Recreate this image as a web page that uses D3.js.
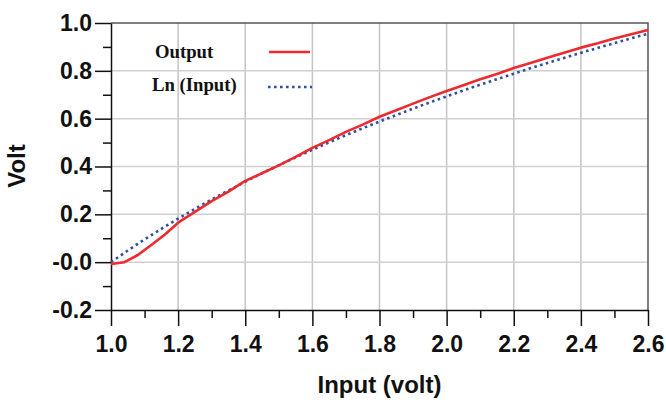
<!DOCTYPE html>
<meta charset="utf-8">
<script src="https://cdn.jsdelivr.net/npm/d3@7"></script>
<style>
  body { margin: 0; background: #fff; }
  .tick text { font-family: "Liberation Sans", Arial, sans-serif; font-weight: bold; font-size: 23px; fill: #111; }
  .legend text { font-family: "Liberation Serif", "Times New Roman", serif; font-weight: bold; font-size: 18.7px; fill: #111; }
  .title { font-family: "Liberation Sans", Arial, sans-serif; font-weight: bold; font-size: 24px; fill: #111; }
</style>
<body>
<div id="chart"></div>
<script>
// values
var inputVolt = [1.00, 1.04, 1.08, 1.12, 1.16, 1.20, 1.25, 1.30, 1.35, 1.40, 1.45, 1.50, 1.55, 1.60, 1.65, 1.70,
                 1.75, 1.80, 1.85, 1.90, 1.95, 2.00, 2.05, 2.10, 2.15, 2.20, 2.25, 2.30, 2.35, 2.40, 2.45, 2.50, 2.55, 2.60];
var outputVolt = [-0.008, 0.000, 0.030, 0.072, 0.115, 0.165, 0.210, 0.255, 0.295, 0.340, 0.372, 0.405, 0.440, 0.478, 0.510, 0.545,
                  0.575, 0.608, 0.635, 0.663, 0.690, 0.716, 0.740, 0.765, 0.787, 0.812, 0.833, 0.855, 0.876, 0.897, 0.915, 0.935, 0.953, 0.971];
var lnInput = [0.000, 0.039, 0.077, 0.113, 0.148, 0.182, 0.223, 0.262, 0.300, 0.336, 0.372, 0.405, 0.438, 0.470, 0.501, 0.531,
               0.560, 0.588, 0.615, 0.642, 0.668, 0.693, 0.718, 0.742, 0.765, 0.788, 0.811, 0.833, 0.854, 0.875, 0.896, 0.916, 0.936, 0.955];

var xTicks = [1.0, 1.2, 1.4, 1.6, 1.8, 2.0, 2.2, 2.4, 2.6];
var xMinor = [1.1, 1.3, 1.5, 1.7, 1.9, 2.1, 2.3, 2.5];
var yTicks = [-0.2, 0.0, 0.2, 0.4, 0.6, 0.8, 1.0];
var yTickLabels = ["-0.2", "-0.0", "0.2", "0.4", "0.6", "0.8", "1.0"];
var yMinor = [-0.1, 0.1, 0.3, 0.5, 0.7, 0.9];
var seriesNames = ["Output", "Ln (Input)"];

var width = 666, height = 400;
var margin = {left: 111, right: 18, top: 23, bottom: 90};

var svg = d3.select("#chart").append("svg")
    .attr("width", width)
    .attr("height", height);

var x = d3.scaleLinear().domain([1.0, 2.6]).range([margin.left, width - margin.right]);
var y = d3.scaleLinear().domain([-0.2, 1.0]).range([height - margin.bottom, margin.top]);

// grid
svg.append("g").selectAll("line").data(xTicks.slice(1, -1)).enter().append("line")
    .attr("x1", d => x(d)).attr("x2", d => x(d))
    .attr("y1", y(1.0)).attr("y2", y(-0.2))
    .attr("stroke", "#c4c4c4").attr("stroke-width", 1.5);
svg.append("g").selectAll("line").data(yTicks.slice(1, -1)).enter().append("line")
    .attr("x1", x(1.0)).attr("x2", x(2.6))
    .attr("y1", d => y(d)).attr("y2", d => y(d))
    .attr("stroke", "#d0d0d0").attr("stroke-width", 1.5);

// top and right frame
svg.append("path")
    .attr("d", "M" + x(1.0) + "," + y(1.0) + "H" + x(2.6) + "V" + y(-0.2))
    .attr("fill", "none").attr("stroke", "#555").attr("stroke-width", 1.5);

// axes
var xAxis = svg.append("g")
    .attr("transform", "translate(0," + y(-0.2) + ")")
    .call(d3.axisBottom(x).tickValues(xTicks).tickFormat(d3.format(".1f")).tickSize(16).tickSizeOuter(0));
xAxis.selectAll("text").attr("dy", "1.05em").attr("y", 18);
svg.append("g")
    .attr("transform", "translate(0," + y(-0.2) + ")")
    .call(d3.axisBottom(x).tickValues(xMinor).tickFormat("").tickSize(8).tickSizeOuter(0))
    .select(".domain").remove();

var yAxis = svg.append("g")
    .attr("transform", "translate(" + x(1.0) + ",0)")
    .call(d3.axisLeft(y).tickValues(yTicks).tickFormat((d, i) => yTickLabels[i]).tickSize(16).tickSizeOuter(0));
yAxis.selectAll("text").attr("x", -19);
svg.append("g")
    .attr("transform", "translate(" + x(1.0) + ",0)")
    .call(d3.axisLeft(y).tickValues(yMinor).tickFormat("").tickSize(8).tickSizeOuter(0))
    .select(".domain").remove();

svg.selectAll(".domain, .tick line").attr("stroke", "#111").attr("stroke-width", 1.5);

// lines
var line = d3.line()
    .x((d, i) => x(inputVolt[i]))
    .y(d => y(d));

svg.append("path").datum(lnInput)
    .attr("d", line)
    .attr("fill", "none")
    .attr("stroke", "#2f4f9f")
    .attr("stroke-width", 2.6)
    .attr("stroke-dasharray", "2.6 3.4");

svg.append("path").datum(outputVolt)
    .attr("d", line)
    .attr("fill", "none")
    .attr("stroke", "#ee2a2e")
    .attr("stroke-width", 2.6)
    .attr("stroke-linejoin", "round");

// legend
var legend = svg.append("g").attr("class", "legend");
legend.append("text").attr("x", 155).attr("y", 58).text(seriesNames[0]);
legend.append("text").attr("x", 152).attr("y", 91).text(seriesNames[1]);
legend.append("line").attr("x1", 269).attr("x2", 310).attr("y1", 52).attr("y2", 52)
    .attr("stroke", "#ee2a2e").attr("stroke-width", 2.6);
legend.append("line").attr("x1", 268).attr("x2", 312).attr("y1", 87).attr("y2", 87)
    .attr("stroke", "#2f4f9f").attr("stroke-width", 2.6).attr("stroke-dasharray", "2.6 3.4");

// axis titles
svg.append("text").attr("class", "title")
    .attr("x", (x(1.0) + x(2.6)) / 2).attr("y", 393)
    .attr("text-anchor", "middle")
    .text("Input (volt)");

svg.append("text").attr("class", "title")
    .attr("transform", "translate(25,166) rotate(-90)")
    .attr("text-anchor", "middle")
    .text("Volt");
</script>
</body>
